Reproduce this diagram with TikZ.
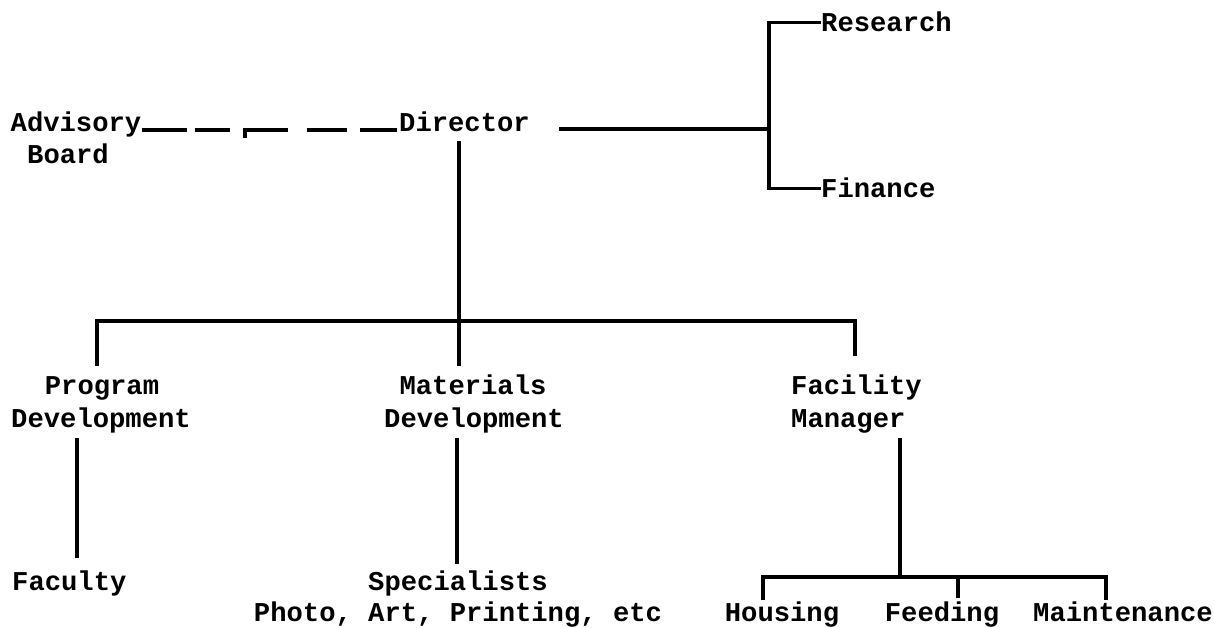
\documentclass[tikz,border=0pt]{standalone}
\usepackage{fontspec}
\setmonofont{Liberation Mono}
\usetikzlibrary{calc}
\begin{document}
\begin{tikzpicture}[x=1pt,y=-1pt,
  lbl/.style={font=\ttfamily\bfseries\fontsize{27.2}{30}\selectfont, inner sep=0pt, anchor=base},
  lblw/.style={lbl, anchor=base west},
  ln/.style={line width=3.2pt}]
\useasboundingbox (0,0) rectangle (1214,628);
% texts
\node[lbl]  (adv)   at (76,132)  {Advisory};
\node[lbl]  (adv2)  at (68,164)  {Board};
\node[lblw] (dir)   at (399,132) {Director};
\node[lblw] (res)   at (821,32)  {Research};
\node[lblw] (fin)   at (821,198) {Finance};
\node[lbl]  (prog)  at (102,394) {Program};
\node[lbl]  (prog2) at (101,427) {Development};
\node[lbl]  (mat)   at (473,394) {Materials};
\node[lbl]  (mat2)  at (474,427) {Development};
\node[lblw] (fac)   at (791,394) {Facility};
\node[lblw] (fac2)  at (791,427) {Manager};
\node[lblw] (facu)  at (12,590)  {Faculty};
\node[lbl]  (spec)  at (458,590) {Specialists};
\node[lbl]  (spec2) at (458,621) {Photo, Art, Printing, etc};
\node[lbl]  (hous)  at (782,621) {Housing};
\node[lbl]  (feed)  at (942,621) {Feeding};
\node[lbl]  (maint) at (1123,621) {Maintenance};
% junction coordinates
\coordinate (dright) at (559,129);
\coordinate (rj)     at (769,129);
\coordinate (dtop)   at (459,141);
\coordinate (mj)     at (459,321);
\coordinate (mbot)   at (459,366);
\coordinate (lj)     at (97,321);
\coordinate (lbot)   at (97,366);
\coordinate (fj)     at (855,321);
\coordinate (fbot)   at (855,356);
\coordinate (pt)     at (77,438);
\coordinate (pb)     at (77,558);
\coordinate (st)     at (457,438);
\coordinate (sb)     at (457,564);
\coordinate (ft)     at (900,438);
\coordinate (fb)     at (900,577);
\coordinate (hj)     at (763,577);
\coordinate (hb)     at (763,600);
\coordinate (ej)     at (958,577);
\coordinate (eb)     at (958,598);
\coordinate (mj2)    at (1106,577);
\coordinate (mb2)    at (1106,600);
% dashed advisory link
\draw[ln] (142,130) -- (187,130);
\draw[ln] (195,130) -- (230,130);
\draw[ln] (245,138) -- (245,130) -- (288,130);
\draw[ln] (307,130) -- (347,130);
\draw[ln] (360,130) -- (397,130);
% director to research / finance
\draw[ln] (dright) -- (rj);
\draw[ln] (res.west) -| (rj) |- (fin.west);
% director down
\draw[ln] (dtop) -- (mbot);
\draw[ln] (lbot) -- (lj) -- (fj) -- (fbot);
% second level
\draw[ln] (pt) -- (pb);
\draw[ln] (st) -- (sb);
\draw[ln] (ft) -- (fb);
\draw[ln] (hb) -- (hj) -- (mj2) -- (mb2);
\draw[ln] (ej) -- (eb);
\end{tikzpicture}
\end{document}
